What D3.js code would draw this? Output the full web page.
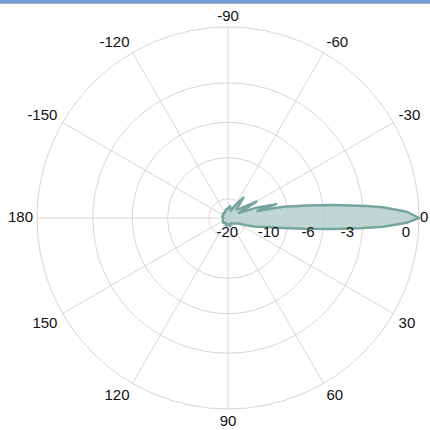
<!DOCTYPE html>
<html>
<head>
<meta charset="utf-8">
<script src="https://cdn.jsdelivr.net/npm/d3@7"></script>
<style>
  body { margin: 0; background: #fff; }
  text { font-family: "Liberation Sans", Arial, sans-serif; font-size: 15px; fill: #111; }
</style>
</head>
<body>
<div id="polar"></div>
<script>
// ---- data ----
var angleTicks = [0, -30, -60, -90, -120, -150, 180, 150, 120, 90, 60, 30];
var radialTicks = [-20, -10, -6, -3, 0];

// radiation pattern: angle (deg, 0 = right, clockwise) and level (dB)
var patternAngles = [-180, -165, -150, -135, -120, -105, -90, -80, -70, -60, -53, -45, -38, -30, -25, -20, -16, -13.5,
  -11.5, -9, -7, -5, -4, -2, 0, 1.5, 3.2, 4.5, 6, 8, 10.3, 13, 17, 22, 27, 35, 45, 60, 75, 90, 105, 120, 135, 150, 165];
var patternDb = [-32, -30, -31, -29, -30, -27, -26, -24, -28, -22, -17.5, -24, -22, -15.3, -24, -16, -11.6, -16,
  -10.6, -7.5, -5.1, -2.8, -1.8, -0.56, 0, -0.56, -1.8, -3.2, -5.1, -7.8, -10.7, -13.5, -16, -20, -24, -26, -28, -30, -27, -30, -28, -31, -29, -30, -31];

// ---- set up chart ----
var svgWidth = 430;
var svgHeight = 430;
var cx = 228;
var cy = 218;
var outerR = 191;

var svg = d3.select("#polar")
  .append("svg")
  .attr("width", svgWidth)
  .attr("height", svgHeight);

// window title strip at the top
svg.append("rect")
  .attr("x", 0).attr("y", 0)
  .attr("width", svgWidth).attr("height", 3)
  .attr("fill", "#6e9fd6");
svg.append("line")
  .attr("x1", 0).attr("x2", svgWidth)
  .attr("y1", 3.5).attr("y2", 3.5)
  .attr("stroke", "#a7b1bc");

var chartGroup = svg.append("g")
  .attr("transform", `translate(${cx}, ${cy})`);

// radius is linear in amplitude (dB -> 10^(dB/20))
var rScale = d3.scaleLinear().domain([0, 1]).range([0, outerR]);
function dbToR(db) { return rScale(Math.pow(10, db / 20)); }
function toRad(deg) { return deg * Math.PI / 180; }

// ---- grid ----
chartGroup.selectAll(".ring")
  .data(radialTicks)
  .enter()
  .append("circle")
  .attr("r", d => dbToR(d))
  .attr("fill", "none")
  .attr("stroke", "#dbd5d5")
  .attr("stroke-width", 1);

chartGroup.selectAll(".spoke")
  .data(angleTicks)
  .enter()
  .append("line")
  .attr("x1", 0).attr("y1", 0)
  .attr("x2", d => outerR * Math.cos(toRad(d)))
  .attr("y2", d => outerR * Math.sin(toRad(d)))
  .attr("stroke", "#dbd5d5")
  .attr("stroke-width", 1);

// ---- pattern ----
var patternData = patternAngles.map((a, i) => ({ angle: a, db: patternDb[i] }));

var radialLine = d3.lineRadial()
  .angle(d => toRad(d.angle + 90))
  .radius(d => dbToR(d.db))
  .curve(d3.curveLinearClosed);

chartGroup.append("path")
  .datum(patternData)
  .attr("d", radialLine)
  .attr("fill", "#b4cfcb")
  .attr("fill-opacity", 0.85)
  .attr("stroke", "#76a59e")
  .attr("stroke-width", 2.5)
  .attr("stroke-linejoin", "round");

// ---- radial labels ----
chartGroup.selectAll(".rlabel")
  .data(radialTicks)
  .enter()
  .append("text")
  .attr("x", d => dbToR(d) - 9)
  .attr("y", 19)
  .attr("text-anchor", "end")
  .text(d => d);

// ---- angle labels ----
function labelR(d) {
  var c = Math.cos(toRad(d));
  if (c > 0.99) return outerR + 1;   // "0" hugs the right edge
  if (c < -0.99) return outerR + 4;
  return outerR + 6;
}

chartGroup.selectAll(".alabel")
  .data(angleTicks)
  .enter()
  .append("text")
  .attr("x", d => labelR(d) * Math.cos(toRad(d)))
  .attr("y", d => labelR(d) * Math.sin(toRad(d)))
  .attr("text-anchor", function(d) {
    var c = Math.cos(toRad(d));
    if (Math.abs(c) < 0.01) return "middle";
    return c > 0 ? "start" : "end";
  })
  .attr("dominant-baseline", function(d) {
    var s = Math.sin(toRad(d));
    if (Math.abs(s) < 0.01) return "middle";
    return s > 0 ? "hanging" : "auto";
  })
  .text(d => d);
</script>
</body>
</html>
